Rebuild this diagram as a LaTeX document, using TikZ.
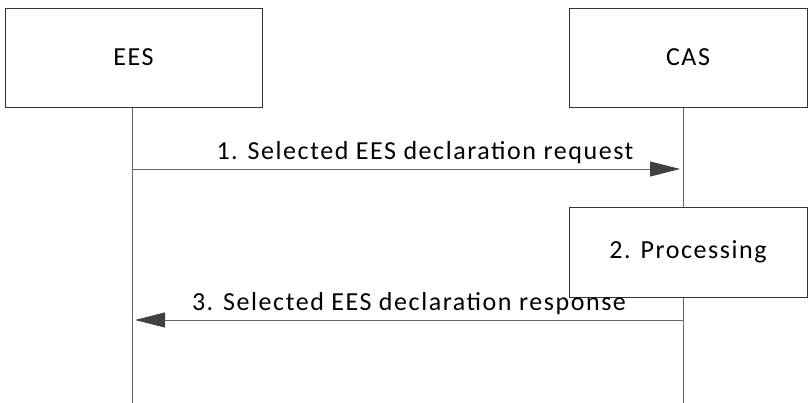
\documentclass[tikz,border=0pt]{standalone}
\usepackage{fontspec}
\setmainfont{Carlito}[LetterSpace=6]
\usetikzlibrary{positioning,arrows.meta,calc}
\tikzset{
  entity/.style  = {rectangle, draw=black!80, thin, fill=white, align=center,
                    minimum width=257pt, minimum height=99pt, inner sep=0pt,
                    font=\fontsize{26}{30}\selectfont},
  proc/.style    = {rectangle, draw=black!80, thin, fill=white, align=center,
                    minimum width=238pt, minimum height=90pt, inner sep=0pt,
                    font=\fontsize{26}{30}\selectfont},
  life/.style    = {draw=black!60, line width=0.8pt},
  msg/.style     = {-{Triangle[length=30pt, width=15pt, color=black!75]}, draw=black!60,
                    line width=0.8pt},
  msglabel/.style= {font=\fontsize{26}{30}\selectfont, text=black, inner sep=2pt},
}
\begin{document}
\begin{tikzpicture}[x=1pt, y=-1pt]
  \useasboundingbox (0,0) rectangle (811,403);

  % lifelines
  \coordinate (eesEnd) at (132,403);
  \coordinate (casEnd) at (683,403);
  \draw[life] (132,107) -- (eesEnd);
  \draw[life] (683,107) -- (casEnd);

  % participants
  \node[entity] (ees) at (133.5,57.5) {EES};
  \node[entity, minimum width=238pt] (cas) at (688,57.5) {CAS};

  % processing step
  \node[proc] (proc) at (688,252) {2. Processing};

  % messages
  \coordinate (m1a) at (132,169);
  \coordinate (m1b) at (680,169);
  \draw[msg] (m1a) -- (m1b)
    node[msglabel, midway, above=3pt, xshift=19pt] {1. Selected EES declaration request};

  \coordinate (m3a) at (683,320);
  \coordinate (m3b) at (135,320);
  \draw[msg] (m3a) -- (m3b)
    node[msglabel, midway, above=3pt] {3. Selected EES declaration response};

\end{tikzpicture}
\end{document}
